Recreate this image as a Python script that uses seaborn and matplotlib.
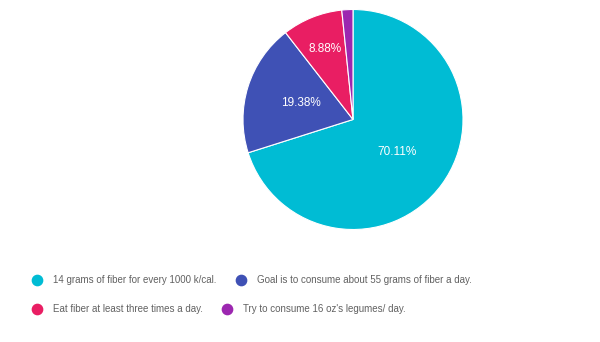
import matplotlib
matplotlib.use("Agg")
import matplotlib.pyplot as plt
from matplotlib.lines import Line2D
import seaborn as sns
import numpy as np

categories = [
    "14 grams of fiber for every 1000 k/cal.",
    "Goal is to consume about 55 grams of fiber a day.",
    "Eat fiber at least three times a day.",
    "Try to consume 16 oz's legumes/ day.",
]
values = [70.11, 19.38, 8.88, 1.63]
colors = ["#00BCD4", "#3F51B5", "#E91E63", "#9C27B0"]

sns.set_theme(style="white")
plt.rcParams["font.family"] = ["Liberation Sans", "DejaVu Sans"]
palette = sns.color_palette(colors)

fig = plt.figure(figsize=(6, 3.42), dpi=100)
fig.patch.set_facecolor("white")

W, H = 600, 342
cx, cy, r = 353, 119.5, 110
ax = fig.add_axes([(cx - r) / W, (H - cy - r) / H, 2 * r / W, 2 * r / H])

def fmt(p):
    return f"{p:.2f}%" if p >= 5 else ""

wedges, texts, autotexts = ax.pie(
    values, colors=palette, startangle=90, counterclock=False,
    autopct=fmt, pctdistance=0.5,
    wedgeprops=dict(edgecolor="white", linewidth=0.8),
    textprops=dict(color="white", fontsize=8.5),
)
# small slices get labels farther out, like the reference
for w, t, v in zip(wedges, autotexts, values):
    if v < 15 and t.get_text():
        ang = np.deg2rad((w.theta1 + w.theta2) / 2)
        t.set_position((0.69 * np.cos(ang), 0.69 * np.sin(ang)))
ax.set_xlim(-1, 1)
ax.set_ylim(-1, 1)
ax.set_aspect("equal")
ax.axis("off")

def handle(c):
    return Line2D([], [], marker="o", linestyle="none", markersize=7.4,
                  markerfacecolor=c, markeredgecolor=c)

common = dict(frameon=False, ncol=2, fontsize=7, labelcolor="#616161",
              handlelength=1.1, handletextpad=1.1, columnspacing=1.9,
              borderpad=0, borderaxespad=0, loc="center left")
leg1 = fig.legend([handle(palette[0]), handle(palette[1])], categories[:2],
                  bbox_to_anchor=(32 / W, 1 - 280 / H), **common)
leg2 = fig.legend([handle(palette[2]), handle(palette[3])], categories[2:],
                  bbox_to_anchor=(32 / W, 1 - 309 / H), **common)

fig.savefig("out.png", dpi=100, facecolor="white")
